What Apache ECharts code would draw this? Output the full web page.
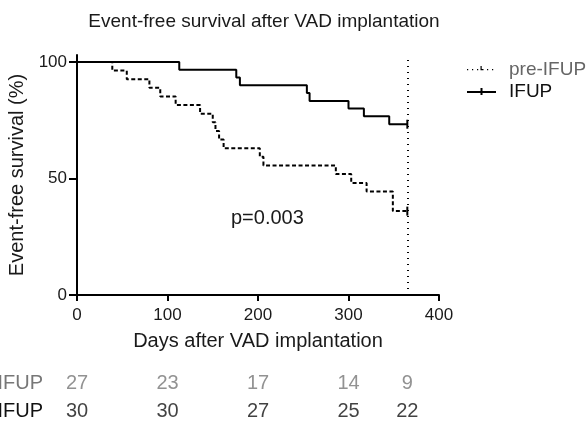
<!DOCTYPE html>
<html><head><meta charset="utf-8">
<script src="https://cdn.jsdelivr.net/npm/echarts@6/dist/echarts.min.js"></script>
<style>html,body{margin:0;padding:0;background:#fff}#c{width:586px;height:423px}</style>
</head><body><div id="c"></div>
<script>
const ifupDays = [0, 113, 176, 180, 254, 257, 300, 317, 345, 365];
const ifupSurv = [100, 96.7, 93.3, 90, 86.7, 83.3, 80, 76.7, 73.3, 73.3];
const preDays = [0, 39, 55, 80, 92, 109, 136, 150, 153, 157, 162, 202, 206, 286, 303, 320, 349, 365];
const preSurv = [100, 96.3, 92.6, 88.9, 85.2, 81.5, 77.8, 74.1, 70.4, 66.7, 63.0, 59.3, 55.6, 51.9, 48.1, 44.4, 36.0, 36.0];
const riskDays = [0, 100, 200, 300, 365];
const preRisk = [27, 23, 17, 14, 9];
const ifupRisk = [30, 30, 27, 25, 22];
const riskRows = ['IFUP', 'pre-IFUP'];
const yTicks = [0, 50, 100];
const followUp = 365;

const FONT = 'Liberation Sans, Arial, sans-serif';
function kmData(days, surv) {
  return days.map((d, i) => {
    const item = { value: [d, surv[i]] };
    if (i === days.length - 1) { item.symbol = 'rect'; item.symbolSize = [2, 9]; }
    return item;
  });
}
const chart = echarts.init(document.getElementById('c'), null, { renderer: 'canvas' });
chart.setOption({
  animation: false,
  textStyle: { fontFamily: FONT },
  title: {
    text: 'Event-free survival after VAD implantation',
    left: 259, top: 7, textAlign: 'center',
    textStyle: { fontSize: 19, fontWeight: 'normal', color: '#1a1a1a', fontFamily: FONT }
  },
  legend: {
    orient: 'vertical', left: 462, top: 55, itemWidth: 29, itemHeight: 12, itemGap: 3,
    textStyle: { fontSize: 19, fontFamily: FONT, padding: [0, 0, 0, 8] },
    data: [
      { name: 'pre-IFUP', icon: 'path://M0,5 L1.2,5 L1.2,6.2 L0,6.2 Z M5,5 L6.2,5 L6.2,6.2 L5,6.2 Z M10,5 L11.2,5 L11.2,6.2 L10,6.2 Z M13.5,2 L14.7,2 L14.7,6.2 L13.5,6.2 Z M14.7,5 L16.5,5 L16.5,6.2 L14.7,6.2 Z M20,5 L21.2,5 L21.2,6.2 L20,6.2 Z M25,5 L26.2,5 L26.2,6.2 L25,6.2 Z M29,0 L29,0.01 L28.99,0.01 Z M29,11 L29,11.01 L28.99,11.01 Z', textStyle: { color: '#666' }, itemStyle: { color: '#000' } },
      { name: 'IFUP', icon: 'path://M0,5 L29,5 L29,7 L0,7 Z M13.5,2 L15.5,2 L15.5,9 L13.5,9 Z M29,0 L29,0.01 L28.99,0.01 Z M29,11 L29,11.01 L28.99,11.01 Z', textStyle: { color: '#111' }, itemStyle: { color: '#000' } }
    ]
  },
  grid: [
    { left: 77, right: 147, top: 55, bottom: 128, outerBoundsMode: 'none' },
    { left: 77, right: 147, top: 369, height: 56, outerBoundsMode: 'none' }
  ],
  xAxis: [
    {
      gridIndex: 0, type: 'value', min: 0, max: 400, interval: 100,
      name: 'Days after VAD implantation', nameLocation: 'middle', nameGap: 36,
      nameTextStyle: { fontSize: 20, color: '#1a1a1a', fontFamily: FONT },
      axisLine: { lineStyle: { color: '#000', width: 2 } },
      axisTick: { show: true, length: 6, lineStyle: { color: '#000', width: 2 } },
      axisLabel: { fontSize: 17, color: '#1a1a1a', margin: 12, fontFamily: FONT },
      splitLine: { show: false }
    },
    {
      gridIndex: 1, type: 'value', min: 0, max: 400, show: false
    }
  ],
  yAxis: [
    {
      gridIndex: 0, type: 'value', min: 0, max: 103, interval: 50,
      name: 'Event-free survival (%)', nameLocation: 'middle', nameGap: 37,
      nameTextStyle: { fontSize: 20, color: '#1a1a1a', fontFamily: FONT },
      axisLine: { show: true, lineStyle: { color: '#000', width: 2 } },
      axisTick: { show: true, length: 8, customValues: yTicks, lineStyle: { color: '#000', width: 2 } },
      axisLabel: { fontSize: 17, color: '#1a1a1a', margin: 10, customValues: yTicks, fontFamily: FONT },
      splitLine: { show: false }
    },
    {
      gridIndex: 1, type: 'category', data: riskRows,
      axisLine: { show: false }, axisTick: { show: false },
      axisLabel: {
        margin: 34, fontSize: 20, fontFamily: FONT,
        formatter: v => v === 'pre-IFUP' ? '{g|' + v + '}' : '{k|' + v + '}',
        rich: { g: { color: '#777', fontSize: 20, fontFamily: FONT }, k: { color: '#111', fontSize: 20, fontFamily: FONT } }
      }
    }
  ],
  series: [
    {
      name: 'pre-IFUP', type: 'line', step: 'end', xAxisIndex: 0, yAxisIndex: 0,
      symbol: 'none', data: kmData(preDays, preSurv),
      lineStyle: { color: '#000', width: 2, type: [4, 2.5] }, itemStyle: { color: '#000' },
      markLine: {
        silent: true, symbol: 'none', label: { show: false },
        lineStyle: { color: '#000', width: 2, type: [1, 5] },
        data: [{ xAxis: followUp }]
      }
    },
    {
      name: 'IFUP', type: 'line', step: 'end', xAxisIndex: 0, yAxisIndex: 0,
      symbol: 'none', data: kmData(ifupDays, ifupSurv),
      lineStyle: { color: '#000', width: 2 }, itemStyle: { color: '#000' }
    },
    {
      name: 'riskPre', type: 'scatter', xAxisIndex: 1, yAxisIndex: 1, symbolSize: 0,
      data: riskDays.map((d, i) => [d, 'pre-IFUP', preRisk[i]]),
      label: { show: true, position: 'inside', formatter: p => p.value[2], fontSize: 20, color: '#777', fontFamily: FONT }
    },
    {
      name: 'riskIfup', type: 'scatter', xAxisIndex: 1, yAxisIndex: 1, symbolSize: 0,
      data: riskDays.map((d, i) => [d, 'IFUP', ifupRisk[i]]),
      label: { show: true, position: 'inside', formatter: p => p.value[2], fontSize: 20, color: '#111', fontFamily: FONT }
    }
  ],
  graphic: [
    { type: 'text', left: 231, top: 208, style: { text: 'p=0.003', fontSize: 20, fill: '#1a1a1a', fontFamily: FONT } }
  ]
});
</script></body></html>
